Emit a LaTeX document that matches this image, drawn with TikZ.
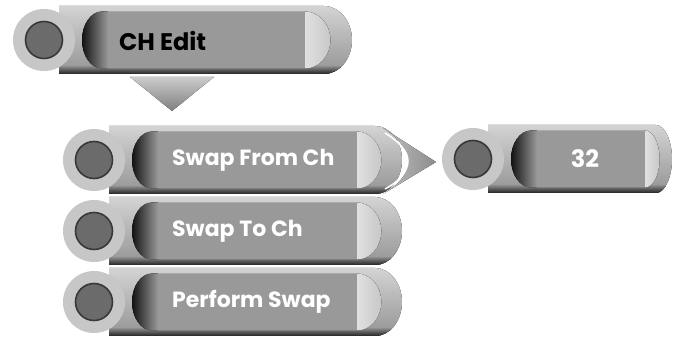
\documentclass[tikz,border=0pt]{standalone}
\usepackage{fontspec}
\setmainfont{Poppins}
\usetikzlibrary{positioning}

% one menu button: ring centre (#1,#2), light band from #3, slab end at #4
\newcommand{\menubutton}[4]{%
  \pgfmathsetmacro{\bodyrx}{0.54*(#4 - #3)}
  \pgfmathsetmacro{\slabrx}{0.6*(#4 - #3)}
  \def\slabpath{(#1 + 15, #2 - 34) -- (#4 - \slabrx, #2 - 34)
    arc [start angle=-90, end angle=90, x radius=\slabrx, y radius=34]
    -- (#1 + 15, #2 + 34) -- cycle}
  \def\bodypath{(#1 + 58, #2 - 28.5) -- (#3, #2 - 28.5)
    arc [start angle=-90, end angle=90, x radius=\bodyrx, y radius=28.5]
    -- (#1 + 58, #2 + 28.5)
    arc [start angle=90, end angle=270, x radius=20, y radius=28.5] -- cycle}
  % slab
  \fill [slab] \slabpath;
  \begin{scope}
    \clip \slabpath;
    \fill [top color=black!50, bottom color=black!92] (#1 + 15, #2 + 27) rectangle (#4 + 1, #2 + 35);
  \end{scope}
  % body
  \fill [black!40] \bodypath;
  \begin{scope}
    \clip \bodypath;
    \fill [left color=black!95, right color=black!40] (#1 + 37, #2 - 30) rectangle (#1 + 64, #2 + 30);
    \fill [left color=black!12, right color=black!30] (#3, #2 - 30) rectangle (#4, #2 + 30);
  \end{scope}
  % ring
  \fill [black!22] (#1, #2) circle (31);
  \draw [black!78, line width=1.6, fill=black!58] (#1, #2) circle (18.5);
}

\begin{document}
\begin{tikzpicture}
  [
    x=1pt, y=-1pt,
    slab/.style={top color=black!17, bottom color=black!42},
    btntext/.style={font=\bfseries\fontsize{22}{22}\selectfont, text=white, inner sep=0pt},
  ]
    \useasboundingbox [fill=white] (0,0) rectangle (673,339);

    % top button
    \menubutton{44}{40}{305}{352}
    \node [btntext, font=\bfseries\fontsize{24}{24}\selectfont, text=black, anchor=west] (chedit) at (119, 41) {CH Edit};

    % pointer down
    \fill [top color=black!20, bottom color=black!50] (130,77) -- (214,77) -- (172,111) -- cycle;

    % sub menu
    \foreach \cy/\name/\txt in {160/swapfrom/Swap From Ch, 231/swapto/Swap To Ch, 302/perform/Perform Swap} {
      \menubutton{94}{\cy}{357}{402}
      \node [btntext, anchor=west] (\name) at (172, \cy) {\txt};
    }

    % pointer right
    \fill [left color=black!25, right color=black!45]
      (383,128) -- (436,162) -- (383,194)
      .. controls (400,184) and (409,172) .. (408,161)
      .. controls (407,149) and (398,137) .. (383,128) -- cycle;
    \draw [white, line width=1.5] (385,133) .. controls (400,142) and (408,152) .. (408,161)
      .. controls (408,171) and (400,181) .. (385,189);

    % value button
    \menubutton{473}{159}{645}{672}
    \node [btntext, font=\bfseries\fontsize{24}{24}\selectfont] (value) at (585, 159) {32};
  \end{tikzpicture}
\end{document}
